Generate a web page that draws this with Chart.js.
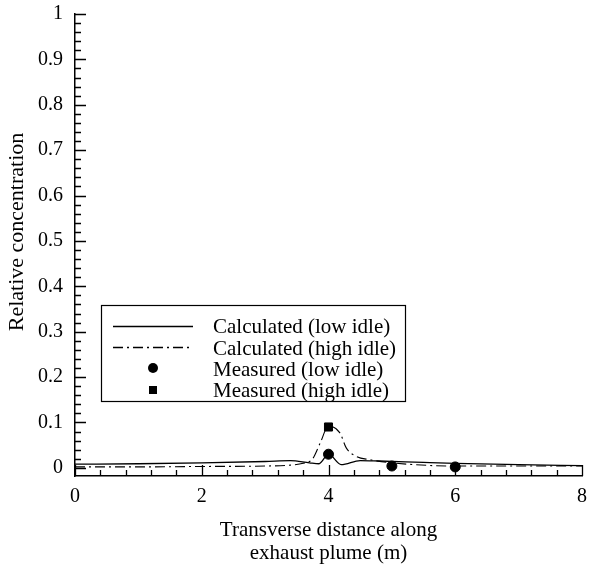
<!DOCTYPE html>
<html>
<head>
<meta charset="utf-8">
<script src="https://cdn.jsdelivr.net/npm/chart.js@4.4.0/dist/chart.umd.min.js"></script>
<style>
  html, body { margin: 0; padding: 0; background: #fff; }
  #wrap { width: 590px; height: 568px; }
</style>
</head>
<body>
<div id="wrap"><canvas id="myChart" width="590" height="568"></canvas></div>
<script>
// data
const calcX = [0, 1, 2, 3, 3.4, 3.7, 3.85, 4.0, 4.2, 4.5, 4.8, 5.5, 6, 7, 8];
const calcLow = [0.008, 0.009, 0.011, 0.014, 0.016, 0.011, 0.009, 0.03, 0.007, 0.016, 0.015, 0.012, 0.01, 0.007, 0.005];

const highX = [0, 1, 2, 3, 3.4, 3.6, 3.75, 3.87, 4.0, 4.18, 4.28, 4.44, 4.65, 5, 6, 7, 8];
const calcHigh = [0.002, 0.002, 0.003, 0.004, 0.006, 0.01, 0.02, 0.055, 0.092, 0.077, 0.044, 0.025, 0.018, 0.011, 0.004, 0.004, 0.004];

const measLowX = [4, 5, 6];
const measLow = [0.03, 0.004, 0.002];
const measHighX = [4];
const measHigh = [0.09];

const yTicks = [0, 0.1, 0.2, 0.3, 0.4, 0.5, 0.6, 0.7, 0.8, 0.9, 1];
const legendLabels = ["Calculated (low idle)", "Calculated (high idle)", "Measured (low idle)", "Measured (high idle)"];
const yTitle = "Relative concentration";

const serif = "'Liberation Serif', 'Times New Roman', serif";

function pts(xs, ys) {
  return xs.map((x, i) => ({ x: x, y: ys[i] }));
}

// inward tick marks (major + minor) and the y title
const tickMarks = {
  id: "tickMarks",
  afterDraw(chart) {
    const ctx = chart.ctx;
    const x = chart.scales.x, y = chart.scales.y;
    const a = chart.chartArea;
    ctx.save();
    ctx.strokeStyle = "#000";
    ctx.lineWidth = 1.3;
    ctx.beginPath();
    for (let i = 0; i <= 50; i++) {
      const v = i * 0.02;
      const py = Math.round(y.getPixelForValue(v)) + 0.5;
      const len = (i % 5 === 0) ? 11 : 6;
      ctx.moveTo(a.left, py);
      ctx.lineTo(a.left + len, py);
    }
    for (let i = 0; i <= 20; i++) {
      const v = i * 0.4;
      const px = Math.round(x.getPixelForValue(v)) + 0.5;
      const len = (i % 5 === 0) ? 11 : 6;
      ctx.moveTo(px, a.bottom);
      ctx.lineTo(px, a.bottom - len);
    }
    ctx.stroke();

    // y axis title, sits a bit above the middle in the original
    ctx.translate(17, 232);
    ctx.rotate(-Math.PI / 2);
    ctx.font = "22px " + serif;
    ctx.fillStyle = "#000";
    ctx.textAlign = "center";
    ctx.textBaseline = "middle";
    ctx.fillText(yTitle, 0, 0);
    ctx.restore();
  }
};

// boxed legend inside the plot
const boxLegend = {
  id: "boxLegend",
  afterDraw(chart) {
    const ctx = chart.ctx;
    const bx = 101, by = 305, bw = 304, bh = 96;
    ctx.save();
    ctx.fillStyle = "#fff";
    ctx.fillRect(bx, by, bw, bh);
    ctx.strokeStyle = "#000";
    ctx.lineWidth = 1.2;
    ctx.strokeRect(bx + 0.5, by + 0.5, bw, bh);
    const rows = [326, 347, 368, 390];
    const base = [333, 354.5, 376, 397];
    ctx.font = "21px " + serif;
    ctx.textBaseline = "alphabetic";
    ctx.textAlign = "left";
    ctx.fillStyle = "#000";
    base.forEach((ry, i) => {
      ctx.fillText(legendLabels[i], 213, ry);
    });
    ctx.lineWidth = 1.3;
    ctx.beginPath();
    ctx.moveTo(113, rows[0] + 0.5);
    ctx.lineTo(193, rows[0] + 0.5);
    ctx.stroke();
    ctx.setLineDash([10, 4, 2, 4]);
    ctx.beginPath();
    ctx.moveTo(113, rows[1] + 0.5);
    ctx.lineTo(193, rows[1] + 0.5);
    ctx.stroke();
    ctx.setLineDash([]);
    ctx.beginPath();
    ctx.arc(153, rows[2], 5, 0, Math.PI * 2);
    ctx.fill();
    ctx.fillRect(149, rows[3] - 4, 8, 8);
    ctx.restore();
  }
};

const ctx = document.getElementById("myChart");

new Chart(ctx, {
  type: "scatter",
  data: {
    datasets: [
      {
        label: legendLabels[2],
        data: pts(measLowX, measLow),
        pointStyle: "circle",
        pointRadius: 5,
        backgroundColor: "#000",
        borderColor: "#000",
        order: 0
      },
      {
        label: legendLabels[3],
        data: pts(measHighX, measHigh),
        pointStyle: "rect",
        pointRadius: 5.7,
        backgroundColor: "#000",
        borderColor: "#000",
        order: 0
      },
      {
        label: legendLabels[0],
        data: pts(calcX, calcLow),
        showLine: true,
        borderColor: "#000",
        borderWidth: 1.3,
        pointRadius: 0,
        cubicInterpolationMode: "monotone",
        order: 1
      },
      {
        label: legendLabels[1],
        data: pts(highX, calcHigh),
        showLine: true,
        borderColor: "#000",
        borderWidth: 1.1,
        borderDash: [10, 4, 2, 4],
        pointRadius: 0,
        cubicInterpolationMode: "monotone",
        order: 1
      }
    ]
  },
  options: {
    responsive: false,
    animation: false,
    layout: {
      padding: { left: 3, right: 8, top: 14, bottom: 0 }
    },
    plugins: {
      legend: { display: false },
      tooltip: { enabled: false }
    },
    scales: {
      x: {
        type: "linear",
        min: 0,
        max: 8,
        grid: { display: false, drawTicks: false },
        border: { display: true, color: "#000", width: 1.5 },
        ticks: {
          stepSize: 2,
          color: "#000",
          padding: 9,
          font: { size: 20, family: serif }
        },
        title: {
          display: true,
          text: ["Transverse distance along", "exhaust plume (m)"],
          color: "#000",
          padding: { top: 0, bottom: 3 },
          font: { size: 21, family: serif, lineHeight: 1.1 }
        },
        afterFit: function (scale) {
          scale.height = 92;
          scale.paddingLeft = 0;
          scale.paddingRight = 0;
        }
      },
      y: {
        type: "linear",
        min: -0.018,
        max: 1,
        grid: { display: false, drawTicks: false },
        border: { display: true, color: "#000", width: 1.5 },
        afterBuildTicks: function (scale) {
          scale.ticks = yTicks.map(v => ({ value: v }));
        },
        ticks: {
          color: "#000",
          padding: 12,
          font: { size: 20, family: serif },
          callback: function (v) {
            return String(Math.round(v * 10) / 10);
          }
        },
        afterFit: function (scale) {
          scale.width = 75 - 3;
          scale.paddingTop = 0;
          scale.paddingBottom = 0;
        }
      }
    }
  },
  plugins: [tickMarks, boxLegend]
});
</script>
</body>
</html>
